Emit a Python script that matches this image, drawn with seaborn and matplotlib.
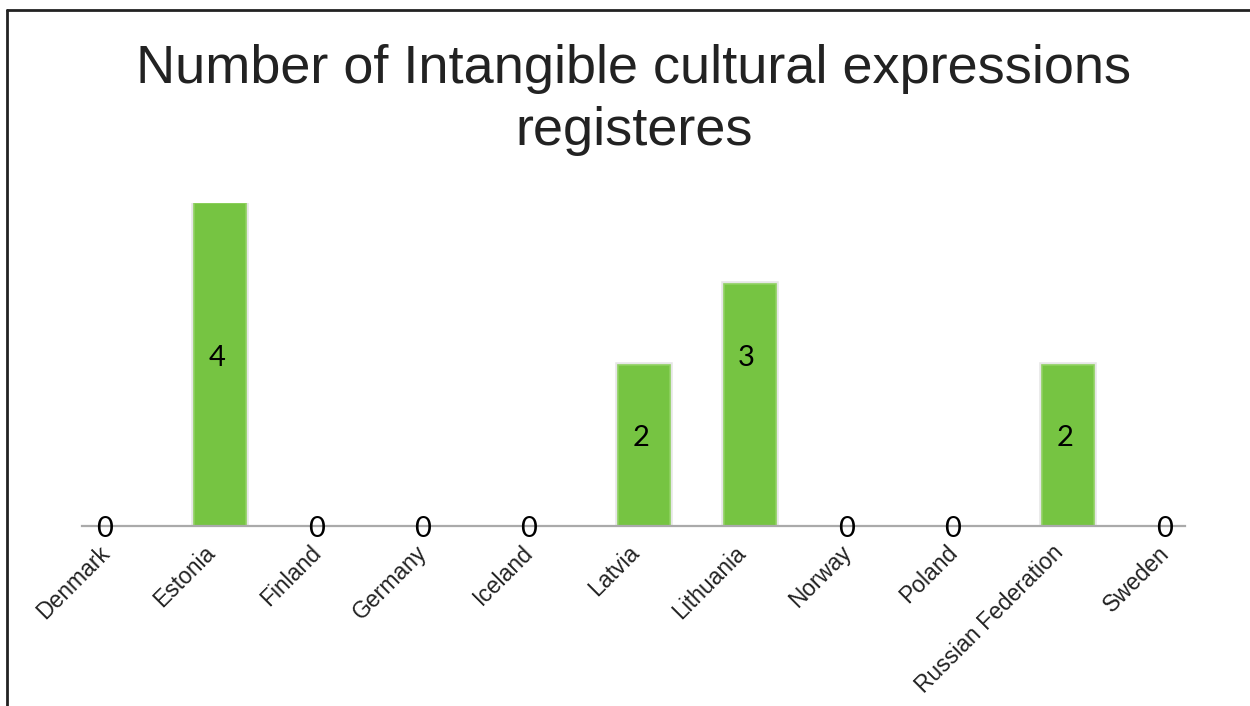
import matplotlib
matplotlib.use("Agg")
import matplotlib.pyplot as plt
import matplotlib.patheffects as pe
from matplotlib.lines import Line2D
from matplotlib.transforms import ScaledTranslation
import seaborn as sns
import pandas as pd

countries = ["Denmark", "Estonia", "Finland", "Germany", "Iceland", "Latvia",
             "Lithuania", "Norway", "Poland", "Russian Federation", "Sweden"]
expressions = [0, 4, 0, 0, 0, 2, 3, 0, 0, 2, 0]
title_text = "Number of Intangible cultural expressions\nregisteres"

sns.set_theme(style="white")
plt.rcParams["font.family"] = ["Liberation Sans", "DejaVu Sans"]

df = pd.DataFrame({"country": countries, "count": expressions})

fig = plt.figure(figsize=(12.5, 7.06), dpi=100)
ax = fig.add_axes([82 / 1250, 180 / 706, 1103 / 1250, 323 / 706])

sns.barplot(data=df, x="country", y="count", color="#76c442", width=0.49,
            saturation=1, ax=ax, edgecolor="#8fd160", linewidth=1.2)

for bar in ax.patches:
    if bar.get_height() > 0:
        bar.set_path_effects([pe.withSimplePatchShadow(offset=(0, 0), shadow_rgbFace="#d0d0d0", alpha=0.9),
                              pe.Stroke(linewidth=4, foreground="#e6e6e6"), pe.Normal()])
    else:
        bar.set_visible(False)

ax.set_xlim(-0.30, 10.106)
ax.set_ylim(0, 4)
ax.set_xlabel("")
ax.set_ylabel("")
ax.set_yticks([])
sns.despine(ax=ax, left=True, top=True, right=True)
ax.spines["bottom"].set_color("#aaaaaa")
ax.spines["bottom"].set_linewidth(1.6)
ax.tick_params(axis="x", length=0, pad=11)
ax.set_xticks(range(len(countries)))
ax.set_xticklabels(countries, rotation=45, ha="right", rotation_mode="anchor",
                   fontsize=16.5, color="#222222")
shift = ScaledTranslation(-16 / 100, 0, fig.dpi_scale_trans)
for lbl in ax.get_xticklabels():
    lbl.set_transform(lbl.get_transform() + shift)

# value labels: inside bars for non-zero values, on the baseline for zeros
label_heights = {4: 2.08, 3: 2.08, 2: 1.09}
for i, v in enumerate(expressions):
    if v == 0:
        ax.text(i - 0.09, -0.04, "0", ha="center", va="center", fontsize=21,
                family=["Lato", "DejaVu Sans"], color="black")
    else:
        ax.text(i - 0.03, label_heights[v], str(v), ha="center", va="center", fontsize=21,
                family=["Lato", "DejaVu Sans"], color="black")

fig.text(0.507, 1 - 100 / 706, title_text, ha="center", va="center", fontsize=39,
         color="#222222", linespacing=1.3)

# outer frame (left and top edges)
fig.add_artist(Line2D([7 / 1250, 7 / 1250], [0, 1 - 10 / 706], transform=fig.transFigure,
                      color="#222222", linewidth=2))
fig.add_artist(Line2D([7 / 1250, 1], [1 - 10 / 706, 1 - 10 / 706], transform=fig.transFigure,
                      color="#222222", linewidth=2))

fig.savefig("out.png", dpi=100, facecolor="white")
